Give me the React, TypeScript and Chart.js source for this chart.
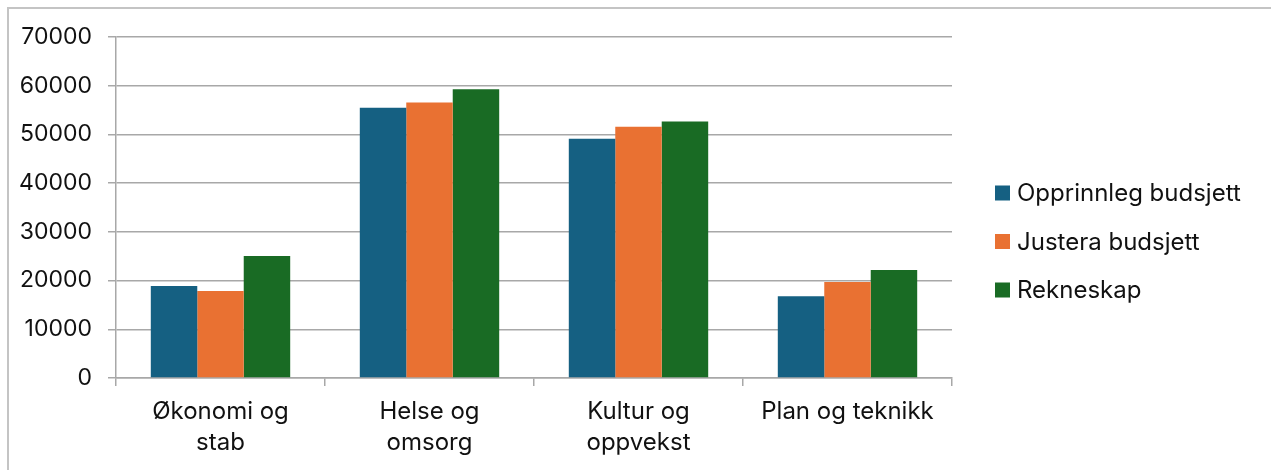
import React, { useEffect, useRef } from "react";
import { Chart, registerables } from "chart.js";

Chart.register(...registerables);

const categories: (string | string[])[] = [
  ["Økonomi og", "stab"],
  ["Helse og", "omsorg"],
  ["Kultur og", "oppvekst"],
  "Plan og teknikk",
];
const seriesNames = ["Opprinnleg budsjett", "Justera budsjett", "Rekneskap"];
const opprinnleg = [18900, 55500, 49100, 16800];
const justera = [17850, 56550, 51600, 19700];
const rekneskap = [25050, 59250, 52650, 22150];
const yMin = 0;
const yMax = 70000;
const yStep = 10000;

const colors = ["#156082", "#E97132", "#196B24"];
const FONT = "Inter, 'Open Sans', sans-serif";
const GRID = "#a8a8a8";
const TEXT = "#111111";

const W = 1271;
const H = 470;

const sideLegend = {
  id: "sideLegend",
  afterDraw(chart: any) {
    const ctx = chart.ctx;
    const x0 = 995;
    const y0 = 193;
    const step = 48.5;
    const box = 15;
    ctx.save();
    ctx.font = `24px ${FONT}`;
    ctx.textBaseline = "middle";
    ctx.textAlign = "left";
    chart.data.datasets.forEach((ds: any, i: number) => {
      const y = y0 + i * step;
      ctx.fillStyle = ds.backgroundColor;
      ctx.fillRect(x0, y - box / 2, box, box);
      ctx.fillStyle = TEXT;
      ctx.fillText(ds.label, x0 + box + 7, y + 1);
    });
    ctx.restore();
  },
};

export default function App() {
  const ref = useRef<HTMLCanvasElement | null>(null);

  useEffect(() => {
    if (!ref.current) return;
    const seriesValues = [opprinnleg, justera, rekneskap];
    const chart = new Chart(ref.current, {
      type: "bar",
      data: {
        labels: categories,
        datasets: seriesNames.map((name, i) => ({
          label: name,
          data: seriesValues[i],
          backgroundColor: colors[i],
          borderWidth: 0,
          categoryPercentage: 0.667,
          barPercentage: 1.0,
        })),
      },
      options: {
        animation: false,
        responsive: false,
        devicePixelRatio: 1,
        layout: { padding: { left: 0, right: W - 952, top: 37, bottom: 0 } },
        plugins: {
          legend: { display: false },
          tooltip: { enabled: false },
          title: { display: false },
        },
        scales: {
          x: {
            grid: {
              display: true,
              offset: true,
              drawOnChartArea: false,
              drawTicks: true,
              tickLength: 8,
              color: GRID,
              lineWidth: 1.5,
            },
            border: { display: true, color: GRID, width: 1.5 },
            ticks: {
              color: TEXT,
              font: { family: FONT, size: 24, lineHeight: 1.3 },
              padding: 10,
              maxRotation: 0,
              autoSkip: false,
            },
            afterFit(scale: any) {
              scale.height = H - 378;
            },
          },
          y: {
            min: yMin,
            max: yMax,
            grid: {
              color: GRID,
              lineWidth: 1.5,
              tickLength: 8,
              drawTicks: true,
            },
            border: { display: true, color: GRID, width: 1.5 },
            ticks: {
              stepSize: yStep,
              color: TEXT,
              font: { family: FONT, size: 23 },
              padding: 16,
              callback: (v: any) => String(v),
            },
            afterFit(scale: any) {
              scale.width = 116;
            },
          },
        },
      },
      plugins: [sideLegend],
    });
    return () => chart.destroy();
  }, []);

  return (
    <div
      style={{
        position: "absolute",
        left: 0,
        top: 0,
        width: W,
        height: H,
        overflow: "hidden",
        background: "#ffffff",
      }}
    >
      <div
        style={{
          position: "absolute",
          left: 7,
          top: 7,
          width: W + 50,
          height: H + 50,
          borderLeft: "2px solid #c4c4c4",
          borderTop: "2px solid #c4c4c4",
        }}
      />
      <canvas
        ref={ref}
        width={W}
        height={H}
        style={{ position: "absolute", left: 0, top: 0, width: W, height: H }}
      />
    </div>
  );
}
